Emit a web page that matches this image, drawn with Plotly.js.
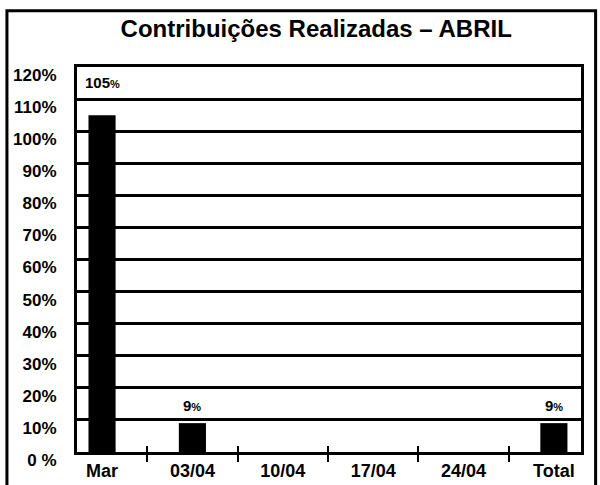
<!DOCTYPE html>
<html><head><meta charset="utf-8">
<script src="https://cdn.plot.ly/plotly-3.0.1.min.js"></script>
<style>html,body{margin:0;padding:0;background:#fff;}#chart{width:600px;height:485px;}</style>
</head><body><div id="chart"></div>
<script>
const categories = ["Mar", "03/04", "10/04", "17/04", "24/04", "Total"];
const values = [105, 9, 0, 0, 0, 9];
const yTickVals = [0, 10, 20, 30, 40, 50, 60, 70, 80, 90, 100, 110, 120];
const yTickText = ["0 %", "10%", "20%", "30%", "40%", "50%", "60%", "70%", "80%", "90%", "100%", "110%", "120%"];
const titleText = "Contribuições Realizadas – ABRIL";

const FONT = "Liberation Sans, Arial, sans-serif";

const annotations = [];
categories.forEach((c, i) => {
  if (values[i] > 0) {
    annotations.push({
      x: c, y: values[i], xref: "x", yref: "y",
      text: "<b>" + values[i] + "<span style='font-size:11px'>%</span></b>",
      showarrow: false, yanchor: "bottom", yshift: values[i] > 50 ? 22 : 7,
      font: {family: FONT, size: 15, color: "#000"}
    });
  }
});

const data = [
  {type: "bar", x: categories, y: values, marker: {color: "#000", line: {width: 0}},
   width: 0.3, hoverinfo: "skip"},
  {type: "scatter", mode: "markers", x: categories, y: values, xaxis: "x2", yaxis: "y",
   marker: {opacity: 0}, hoverinfo: "skip", showlegend: false}
];

const xr = [-0.277, 5.3];
const layout = {
  width: 600, height: 485,
  margin: {l: 77, r: 19, t: 67, b: 33},
  paper_bgcolor: "#fff", plot_bgcolor: "#fff",
  showlegend: false,
  title: {text: "<b>" + titleText + "</b>", x: 0.527, xanchor: "center", y: 0.941, yanchor: "middle",
          font: {family: FONT, size: 24, color: "#000"}},
  xaxis: {type: "category", range: xr, tickson: "boundaries", ticks: "outside", ticklen: 7,
          tickwidth: 2, tickcolor: "#000", showgrid: false, showline: true, linewidth: 3,
          linecolor: "#000", mirror: true, zeroline: false,
          tickfont: {family: FONT, size: 18, color: "#000"}, tickprefix: "<b>", ticksuffix: "</b>"},
  xaxis2: {type: "category", overlaying: "x", matches: "x", range: xr, tickson: "boundaries",
           ticks: "inside", ticklen: 6, tickwidth: 2, tickcolor: "#000", showgrid: false,
           showticklabels: false, showline: false, zeroline: false, side: "bottom"},
  yaxis: {range: [0, 120], tickvals: yTickVals, ticktext: yTickText.map(t => "<b>" + t + "</b>"),
          showgrid: true, gridcolor: "#000", gridwidth: 3, showline: true, linewidth: 3,
          linecolor: "#000", mirror: true, zeroline: false, ticks: "", ticklabelshift: 8,
          ticklabelstandoff: 14, tickfont: {family: FONT, size: 17, color: "#000"}},
  annotations: annotations,
  shapes: [{type: "rect", xref: "paper", yref: "paper", x0: -0.139, x1: 1.029, y0: -0.12, y1: 1.146,
            line: {color: "#000", width: 3}, fillcolor: "rgba(0,0,0,0)", layer: "above"}]
};

Plotly.newPlot("chart", data, layout, {staticPlot: true, displayModeBar: false});
</script></body></html>
